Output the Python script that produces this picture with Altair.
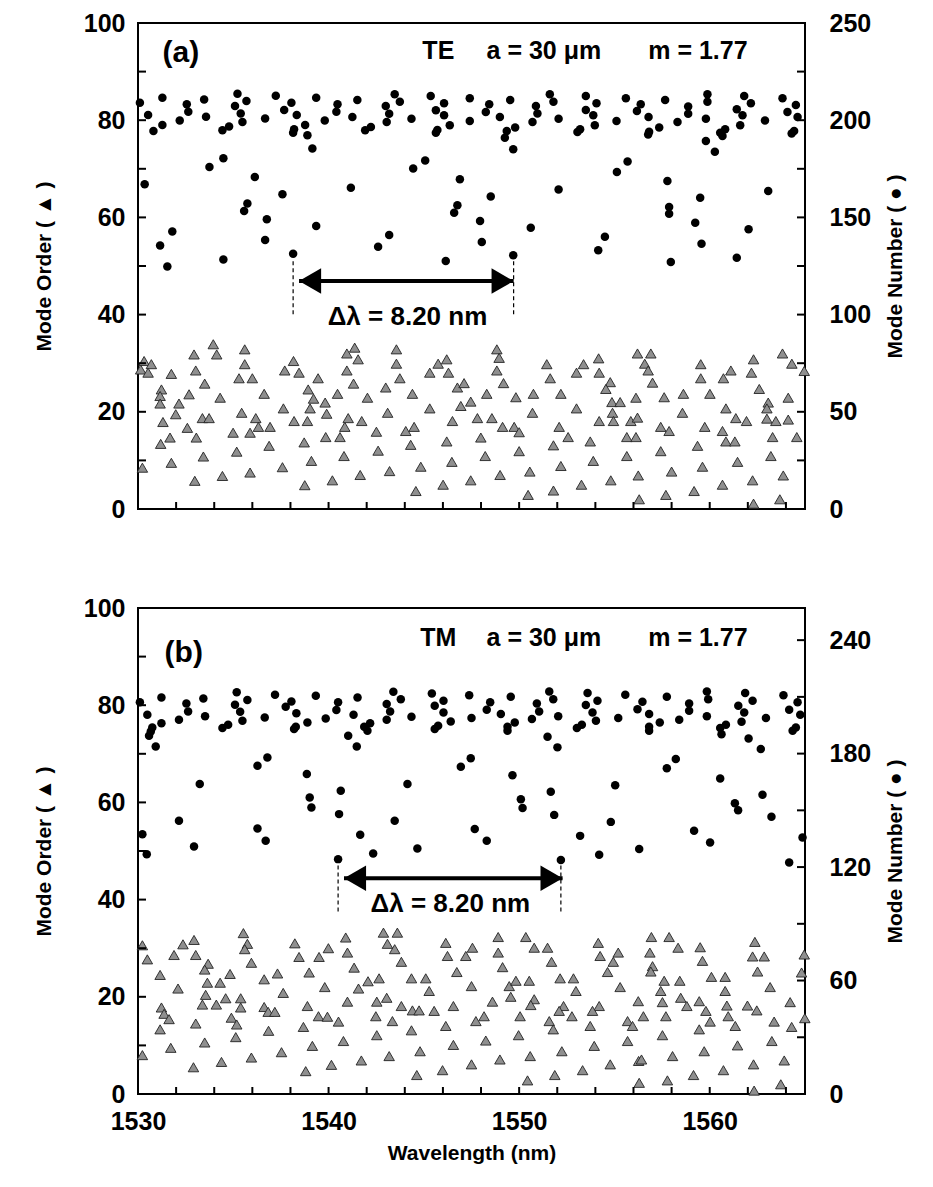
import altair as alt
import pandas as pd

# ---------------- data (wavelength nm, value) ----------------
# Panel (a) TE : circles = mode number (right axis), triangles = mode order (left axis)
te_dots = [
    (1530.10, 209.0), (1530.53, 202.7), (1531.28, 211.6), (1530.81, 194.4), (1531.28, 197.5),
    (1532.19, 199.9), (1532.56, 208.2), (1532.64, 204.4), (1533.47, 210.7), (1533.57, 201.8),
    (1534.43, 194.8), (1534.78, 196.7), (1535.22, 213.6), (1535.09, 207.3), (1535.69, 209.9),
    (1535.39, 203.5), (1535.48, 199.1), (1536.67, 200.9), (1537.23, 212.6), (1537.67, 205.2),
    (1538.05, 209.0), (1538.33, 202.7), (1538.19, 195.3), (1538.14, 193.6), (1538.77, 197.5),
    (1538.89, 192.2), (1539.15, 185.5), (1539.35, 211.6), (1539.80, 199.9), (1540.47, 208.2),
    (1540.41, 204.4), (1541.25, 201.7), (1541.51, 210.4), (1541.92, 194.8), (1542.22, 196.5),
    (1530.35, 167.0), (1533.75, 175.9), (1534.48, 180.4), (1536.13, 170.8), (1535.74, 157.2),
    (1535.57, 153.3), (1537.58, 161.9), (1536.76, 149.0), (1536.67, 138.4), (1531.80, 142.7),
    (1531.16, 135.6), (1531.54, 124.7), (1534.48, 128.4), (1538.14, 131.3), (1539.35, 145.6),
    (1541.17, 165.3), (1542.60, 134.9),
    (1543.00, 207.3), (1543.18, 203.3), (1543.05, 199.1), (1543.47, 213.3), (1543.74, 209.5),
    (1544.35, 200.8), (1545.36, 212.4), (1546.06, 208.7), (1545.63, 205.1), (1546.06, 202.5),
    (1546.36, 197.4), (1545.71, 194.9), (1545.63, 193.6), (1547.41, 211.3), (1547.41, 199.6),
    (1548.43, 208.2), (1548.25, 204.2), (1548.99, 201.6), (1549.53, 210.4), (1549.79, 196.2),
    (1549.35, 194.4), (1549.25, 191.0), (1549.69, 185.0), (1550.88, 207.3), (1550.96, 203.5),
    (1550.70, 199.1), (1551.61, 213.3), (1551.80, 209.5), (1552.07, 200.8), (1553.20, 195.3),
    (1553.06, 193.9), (1553.50, 212.4), (1554.06, 208.7), (1553.50, 205.2), (1553.89, 202.5),
    (1553.97, 197.4), (1555.11, 199.6), (1555.60, 211.3), (1556.18, 204.7),
    (1544.44, 175.1), (1545.07, 179.3), (1546.89, 169.6), (1546.76, 156.2), (1546.59, 152.4),
    (1548.51, 160.7), (1547.95, 148.2), (1548.04, 137.3), (1549.69, 130.5), (1546.15, 127.6),
    (1543.18, 140.9), (1550.61, 144.7), (1552.07, 164.4), (1554.50, 140.1), (1554.15, 133.1),
    (1555.13, 173.4), (1555.69, 178.7),
    (1556.38, 208.2), (1556.79, 201.6), (1556.82, 194.1), (1556.77, 192.7), (1557.35, 196.2),
    (1557.66, 210.4), (1558.31, 199.1), (1558.87, 207.0), (1558.87, 203.3), (1559.88, 213.3),
    (1559.88, 209.5), (1559.80, 200.8), (1559.80, 189.3), (1560.27, 183.8), (1560.55, 193.6),
    (1560.81, 195.3), (1560.67, 191.9), (1561.42, 205.6), (1561.72, 202.5), (1561.60, 197.4),
    (1561.81, 212.4), (1562.16, 208.7), (1562.90, 199.9), (1563.82, 211.3), (1564.08, 204.2),
    (1564.52, 207.8), (1564.61, 201.6), (1564.43, 194.4), (1564.30, 193.1),
    (1557.78, 168.7), (1557.87, 155.3), (1557.87, 151.9), (1559.50, 160.1), (1559.24, 147.3),
    (1559.57, 136.5), (1557.96, 127.1), (1561.42, 129.3), (1562.04, 143.9), (1563.07, 163.6),
]

te_tris = [
    (1530.32, 30.45), (1530.14, 28.7), (1530.70, 29.8), (1530.53, 28.05), (1531.75, 27.8),
    (1532.94, 31.8), (1533.95, 33.9), (1534.13, 31.8), (1535.60, 32.85), (1535.60, 29.8),
    (1533.03, 28.5), (1535.30, 26.9), (1536.00, 26.9), (1533.50, 25.8), (1531.23, 24.6),
    (1531.16, 23.25), (1531.16, 21.7), (1532.15, 21.7), (1532.68, 23.6), (1534.31, 22.9),
    (1536.62, 23.7), (1531.98, 19.5), (1531.31, 17.9), (1533.38, 18.7), (1533.73, 18.7),
    (1535.44, 19.8), (1536.18, 18.7), (1536.32, 16.9), (1536.93, 16.9), (1535.88, 15.7),
    (1534.99, 15.7), (1532.59, 16.7), (1533.06, 14.7), (1531.68, 14.7), (1531.19, 13.4),
    (1531.75, 9.5), (1533.43, 10.8), (1530.23, 8.5), (1532.98, 5.8), (1534.43, 6.8),
    (1535.88, 7.5), (1535.18, 11.8), (1536.88, 13.0), (1537.58, 8.6), (1537.63, 20.7),
    (1537.70, 28.5), (1538.16, 30.45), (1538.45, 28.05), (1538.19, 18.1), (1538.89, 18.1),
    (1538.93, 24.6), (1539.21, 22.7), (1539.03, 20.7), (1539.45, 26.9), (1539.82, 21.9),
    (1539.90, 19.6), (1540.47, 23.7), (1538.72, 13.7), (1539.10, 9.9), (1539.85, 14.8),
    (1540.60, 14.8), (1540.85, 16.9), (1541.03, 18.7), (1540.81, 10.9), (1538.75, 4.9),
    (1540.20, 5.9), (1541.66, 7.0), (1540.96, 32.0), (1541.37, 33.2), (1541.55, 30.8),
    (1540.96, 28.5), (1541.31, 25.8), (1542.04, 22.9), (1541.74, 18.1), (1542.51, 15.9),
    (1542.60, 12.0), (1543.00, 25.0), (1543.10, 19.8), (1543.20, 7.8),
    (1543.56, 32.85), (1543.56, 29.9), (1543.74, 26.9), (1544.40, 23.7), (1544.05, 16.05),
    (1544.49, 16.9), (1544.31, 13.2), (1544.84, 8.7), (1544.58, 3.7), (1545.31, 20.7),
    (1545.31, 28.05), (1545.75, 29.9), (1546.20, 30.8), (1546.29, 28.05), (1546.76, 25.0),
    (1547.11, 25.9), (1546.94, 21.2), (1547.46, 22.1), (1546.50, 18.1), (1546.20, 13.9),
    (1546.47, 9.7), (1546.01, 5.0), (1547.46, 5.9), (1547.81, 18.7), (1547.99, 14.7),
    (1548.22, 10.9), (1548.30, 23.7), (1548.57, 18.7), (1548.83, 32.85), (1548.95, 31.1),
    (1548.83, 28.5), (1549.18, 25.9), (1549.13, 16.9), (1549.74, 16.9), (1550.00, 15.8),
    (1549.83, 23.0), (1550.00, 11.9), (1549.00, 7.0), (1550.56, 7.7), (1550.47, 2.9),
    (1550.75, 23.7), (1550.70, 19.8), (1551.45, 29.8), (1551.63, 26.9), (1552.19, 23.7),
    (1552.10, 16.9), (1552.57, 14.8), (1551.80, 13.1), (1552.19, 8.85), (1551.80, 3.8),
    (1553.01, 20.7), (1553.01, 28.05), (1553.38, 29.8), (1553.73, 13.9), (1553.89, 9.9),
    (1553.27, 5.0), (1554.17, 31.0), (1554.20, 28.05), (1554.78, 26.1), (1554.55, 24.7),
    (1554.87, 22.0), (1555.30, 22.0), (1554.90, 19.8), (1554.20, 18.1), (1554.95, 18.1),
    (1555.86, 18.1), (1556.13, 22.9), (1556.21, 32.0), (1555.65, 14.8), (1556.13, 14.8),
    (1555.65, 10.9), (1554.81, 5.9), (1556.25, 6.9), (1556.30, 2.0), (1556.21, 18.8),
    (1556.91, 32.0), (1556.59, 29.9), (1556.77, 28.5), (1557.00, 26.0), (1557.61, 23.0),
    (1558.62, 23.7), (1560.01, 23.7), (1559.53, 29.8), (1559.53, 26.9), (1560.72, 26.9),
    (1561.11, 28.5), (1562.30, 30.8), (1562.19, 28.05), (1562.60, 24.7), (1563.82, 32.0),
    (1564.31, 29.9), (1564.96, 28.4), (1564.12, 22.9), (1563.07, 21.9), (1563.00, 20.7),
    (1563.00, 18.6), (1563.47, 18.1), (1564.12, 18.4), (1563.30, 14.8), (1564.57, 14.8),
    (1563.21, 10.9), (1563.86, 6.9), (1563.68, 2.0), (1562.30, 1.1), (1562.25, 5.9),
    (1560.67, 5.0), (1561.46, 9.7), (1560.85, 20.7), (1561.37, 18.7), (1561.93, 18.1),
    (1560.67, 16.05), (1560.85, 13.9), (1561.32, 13.9), (1559.74, 16.9), (1559.36, 13.0),
    (1559.62, 8.7), (1559.18, 3.7), (1558.57, 19.8), (1557.43, 16.9), (1557.87, 16.05),
    (1557.43, 11.9), (1558.00, 7.7), (1557.70, 2.9),
]

# Panel (b) TM
tm_dots = [
    (1530.10, 207.1), (1530.49, 200.5), (1531.23, 209.7), (1531.23, 196.0), (1530.75, 193.8),
    (1530.67, 191.7), (1530.58, 189.4), (1530.93, 183.8), (1532.15, 197.9), (1532.54, 206.5),
    (1532.63, 202.3), (1533.43, 209.2), (1533.52, 199.7), (1534.43, 193.5), (1534.73, 195.3),
    (1535.18, 212.4), (1535.09, 205.8), (1535.36, 202.1), (1535.48, 197.4), (1535.74, 208.3),
    (1536.65, 199.1), (1537.19, 211.1), (1537.75, 204.8), (1538.05, 207.6), (1538.31, 201.3),
    (1538.28, 194.2), (1538.19, 193.0), (1538.89, 196.5), (1539.33, 210.6), (1539.85, 198.6),
    (1540.50, 207.1), (1540.41, 203.0), (1541.31, 200.5), (1541.52, 209.7), (1541.87, 194.2),
    (1542.18, 196.0), (1542.04, 192.1), (1541.03, 189.4), (1541.48, 183.8),
    (1536.27, 173.6), (1536.79, 178.0), (1533.24, 163.9), (1538.86, 169.2), (1539.01, 156.8),
    (1539.10, 151.5), (1540.64, 160.3), (1540.55, 148.0), (1532.15, 144.5), (1530.23, 137.4),
    (1530.46, 126.8), (1532.94, 130.9), (1536.27, 140.4), (1536.70, 133.9), (1541.66, 137.1),
    (1540.50, 124.2), (1542.34, 127.2),
    (1543.05, 206.2), (1543.23, 202.3), (1543.05, 197.9), (1543.40, 212.7), (1543.79, 208.8),
    (1544.35, 199.5), (1545.42, 211.8), (1545.57, 205.3), (1546.03, 207.9), (1546.03, 201.8),
    (1546.41, 197.0), (1545.75, 194.7), (1545.57, 193.0), (1547.38, 210.9), (1547.50, 198.8),
    (1548.48, 207.1), (1548.30, 203.2), (1549.04, 200.9), (1549.56, 210.1), (1549.77, 196.5),
    (1549.39, 194.2), (1549.39, 192.1), (1550.93, 206.5), (1551.05, 202.3), (1550.67, 198.3),
    (1551.58, 212.9), (1551.79, 208.8), (1552.05, 199.7), (1551.49, 188.9), (1552.01, 183.3),
    (1553.03, 193.5), (1553.29, 195.3), (1553.59, 212.0), (1554.11, 208.0), (1553.50, 205.7),
    (1553.85, 201.8), (1554.03, 197.4), (1555.20, 198.8), (1555.57, 211.1), (1556.21, 203.5),
    (1546.94, 173.0), (1547.46, 177.6), (1544.14, 163.9), (1549.65, 168.6), (1550.09, 155.9),
    (1550.18, 151.2), (1551.66, 159.8), (1551.84, 147.6), (1543.47, 144.5), (1547.67, 140.1),
    (1548.30, 133.9), (1544.66, 129.8), (1553.20, 136.5), (1552.19, 123.8), (1554.20, 126.5),
    (1555.04, 163.3), (1554.81, 143.9), (1556.30, 129.5),
    (1556.47, 207.4), (1556.82, 200.9), (1556.82, 194.2), (1556.82, 192.1), (1557.38, 196.5),
    (1557.75, 210.1), (1558.40, 197.9), (1558.92, 206.5), (1558.92, 202.7), (1559.85, 212.9),
    (1559.92, 208.8), (1559.85, 199.7), (1560.55, 193.5), (1560.85, 195.3), (1560.62, 190.3),
    (1561.50, 205.3), (1561.81, 201.8), (1561.67, 196.8), (1561.86, 212.0), (1562.25, 208.0),
    (1562.04, 188.0), (1562.95, 198.8), (1562.68, 182.4), (1563.87, 210.9), (1564.17, 203.2),
    (1564.61, 207.1), (1564.75, 200.5), (1564.52, 193.8), (1564.35, 192.1),
    (1557.75, 172.3), (1558.22, 177.1), (1560.55, 166.9), (1562.77, 158.2), (1561.32, 153.8),
    (1561.49, 150.1), (1563.24, 146.6), (1559.18, 139.2), (1560.02, 133.0), (1564.87, 135.6),
    (1564.17, 122.4),
]

tm_tris = [
    (1530.23, 30.6), (1530.49, 27.7), (1531.16, 24.5), (1532.10, 21.7), (1531.89, 28.6),
    (1532.36, 30.8), (1532.94, 31.7), (1533.03, 28.6), (1533.68, 26.8), (1533.50, 25.6),
    (1533.64, 22.9), (1534.31, 22.9), (1533.55, 20.4), (1533.38, 18.4), (1534.11, 18.4),
    (1534.60, 19.7), (1534.83, 24.7), (1535.53, 33.1), (1535.74, 30.9), (1535.60, 29.8),
    (1535.95, 27.0), (1535.39, 19.7), (1535.39, 17.8), (1531.23, 17.8), (1531.37, 16.5),
    (1531.63, 15.4), (1531.16, 13.3), (1533.03, 14.5), (1534.90, 15.7), (1535.18, 14.3),
    (1535.13, 11.7), (1533.50, 10.6), (1531.72, 9.5), (1530.23, 8.0), (1532.91, 5.5),
    (1534.38, 6.6), (1535.95, 7.5), (1536.62, 23.6), (1537.32, 24.8), (1537.62, 20.8),
    (1536.62, 17.9), (1536.83, 16.9), (1537.18, 16.9), (1536.85, 13.0), (1537.53, 8.6),
    (1538.23, 31.0), (1538.45, 28.2), (1538.98, 25.0), (1538.89, 18.1), (1538.68, 13.8),
    (1539.15, 9.9), (1538.80, 4.7), (1539.50, 28.2), (1539.99, 30.0), (1539.80, 22.0),
    (1539.47, 16.0), (1539.94, 15.9), (1540.52, 14.9), (1540.15, 6.0), (1540.90, 32.2),
    (1540.99, 29.1), (1541.34, 26.0), (1541.57, 21.7), (1540.99, 19.0), (1540.78, 10.9),
    (1541.72, 6.9), (1542.07, 23.2), (1542.65, 23.8), (1542.53, 19.0), (1542.48, 16.0),
    (1542.53, 12.1), (1542.88, 33.2), (1543.09, 30.9), (1543.05, 19.8), (1543.18, 7.8),
    (1543.61, 33.2), (1543.47, 29.8), (1543.82, 27.2), (1543.82, 18.1), (1544.40, 17.2),
    (1544.75, 17.2), (1543.35, 15.0), (1544.35, 13.1), (1544.80, 8.8), (1544.63, 3.9),
    (1544.35, 23.8), (1545.10, 23.8), (1545.28, 21.2), (1545.54, 17.1), (1546.15, 31.1),
    (1546.24, 28.4), (1546.73, 25.1), (1547.20, 28.4), (1547.55, 30.1), (1547.50, 22.2),
    (1546.55, 18.1), (1546.15, 14.0), (1546.55, 10.1), (1545.98, 4.9), (1547.50, 6.1),
    (1547.73, 15.0), (1548.16, 16.0), (1548.25, 11.0), (1548.60, 19.0), (1548.90, 32.3),
    (1548.90, 29.1), (1549.13, 26.1), (1549.48, 22.2), (1549.83, 23.3), (1549.56, 20.0),
    (1550.53, 23.3), (1550.05, 16.0), (1549.97, 12.1), (1548.99, 7.1), (1550.58, 7.8),
    (1550.44, 2.8), (1550.35, 32.3), (1550.79, 30.1), (1551.49, 30.1), (1551.70, 27.2),
    (1550.79, 19.5), (1550.61, 18.3), (1551.58, 15.0), (1551.79, 13.3), (1552.15, 23.8),
    (1552.85, 23.8), (1552.98, 21.2), (1552.33, 18.1), (1552.10, 17.1), (1552.77, 16.0),
    (1552.24, 8.8), (1551.87, 3.9), (1553.33, 4.9), (1553.73, 14.0), (1553.94, 9.9),
    (1554.15, 31.1), (1554.25, 28.4), (1555.20, 29.1), (1554.94, 27.2), (1554.64, 25.1),
    (1555.30, 22.0), (1554.20, 18.1), (1553.85, 17.1), (1555.69, 15.0), (1555.95, 14.0),
    (1555.69, 10.9), (1554.78, 6.1), (1556.25, 19.1), (1556.27, 6.8), (1556.30, 2.3),
    (1556.94, 32.3), (1557.87, 32.3), (1558.34, 30.1), (1556.86, 29.1), (1557.00, 26.3),
    (1556.91, 25.2), (1557.61, 23.3), (1558.43, 23.3), (1557.43, 21.2), (1557.52, 18.9),
    (1556.52, 16.0), (1557.70, 16.0), (1558.48, 19.8), (1558.80, 18.1), (1559.45, 19.1),
    (1559.80, 17.1), (1560.02, 14.9), (1559.45, 13.3), (1557.52, 12.1), (1556.42, 7.1),
    (1558.05, 7.8), (1557.78, 2.8), (1559.15, 3.9), (1559.71, 8.8), (1559.50, 30.2),
    (1559.62, 27.4), (1560.09, 24.1), (1560.81, 24.1), (1560.81, 21.2), (1560.90, 18.2),
    (1560.97, 16.0), (1561.34, 14.0), (1561.46, 10.0), (1560.72, 4.9), (1561.98, 18.2),
    (1562.47, 17.2), (1562.37, 31.3), (1562.25, 28.3), (1562.86, 28.3), (1562.51, 25.2),
    (1563.17, 22.0), (1563.38, 14.9), (1563.26, 10.9), (1563.91, 6.9), (1562.30, 6.1),
    (1562.33, 0.7), (1563.73, 2.0), (1564.22, 18.9), (1564.30, 13.8), (1564.96, 28.7),
    (1564.82, 25.0), (1564.99, 15.6),
]

# axis ticks / labels
x_domain = [1530, 1565]
x_labels = [1530, 1540, 1550, 1560]
x_ticks = list(range(1530, 1565, 2))
left_labels = [0, 20, 40, 60, 80, 100]
left_ticks = list(range(0, 101, 10))
te_right_max = 250
te_right_labels = [0, 50, 100, 150, 200, 250]
te_right_ticks = list(range(0, 251, 25))
tm_right_max = 257
tm_right_labels = [0, 60, 120, 180, 240]
tm_right_ticks = list(range(0, 241, 30))

# annotations: (wavelength, mode order, text)
te_tag = [(1532.25, 93.8, "(a)")]
te_head = [(1545.76, 94.2, "TE"), (1551.30, 94.2, "a = 30 \u03bcm"), (1559.38, 94.2, "m = 1.77")]
te_delta = [(1544.14, 39.6, "\u0394\u03bb = 8.20 nm")]
te_arrow = (1538.45, 1549.71, 46.9)
te_dash = [(1538.14, 51.0, 39.5), (1549.71, 51.0, 39.5)]

tm_tag = [(1532.4, 90.7, "(b)")]
tm_head = [(1545.76, 93.8, "TM"), (1551.30, 93.8, "a = 30 \u03bcm"), (1559.38, 93.8, "m = 1.77")]
tm_delta = [(1546.39, 39.1, "\u0394\u03bb = 8.20 nm")]
tm_arrow = (1540.81, 1552.28, 44.4)
tm_dash = [(1540.50, 47.0, 37.0), (1552.19, 47.0, 37.0)]

# ---------------- style ----------------
W, H = 667, 486
FONT = "Liberation Sans"
TRI_FILL = "#8f8f8f"
TRI_STROKE = "#222222"
HEAD_SIZE = 650
HEAD_NM = (HEAD_SIZE ** 0.5) / 2 * 0.866 / (W / 35.0)
LABEL_SIZE = 25
TITLE_SIZE = 21


def build_panel(dots, tris, rmax, rlabels, rticks, tag, head, delta, arrow, dash, show_x):
    xs = alt.Scale(domain=x_domain, nice=False, zero=False)
    yl = alt.Scale(domain=[0, 100], nice=False)
    yr = alt.Scale(domain=[0, rmax], nice=False)
    if show_x:
        xaxis = alt.Axis(values=x_labels, format="d", title="Wavelength (nm)",
                         labelPadding=15, titlePadding=8, labelFlush=False)
    else:
        xaxis = None
    yl_axis = alt.Axis(values=left_labels, title="Mode Order ( \u25b2 )", labelPadding=13,
                       minExtent=55, maxExtent=55, titlePadding=29, labelFlush=False)
    yr_axis = alt.Axis(orient="right", values=rlabels, title="Mode Number ( \u25cf )",
                       labelPadding=24, titleAngle=-90, titleBaseline="top", titlePadding=14,
                       labelFlush=False)

    def X(field):
        return alt.X(field, scale=xs, axis=xaxis)

    def YL(field):
        return alt.Y(field, scale=yl, axis=yl_axis)

    tri_df = pd.DataFrame(tris, columns=["wl", "order"])
    dot_df = pd.DataFrame(dots, columns=["wl", "num"])

    tri = alt.Chart(tri_df).mark_point(
        shape="triangle-up", filled=True, size=110, fill=TRI_FILL,
        stroke=TRI_STROKE, strokeWidth=0.9, opacity=1
    ).encode(x=X("wl:Q"), y=YL("order:Q"))
    lt = alt.Chart(pd.DataFrame({"order": left_ticks})).mark_rule(
        color="black", strokeWidth=2).encode(
        y=YL("order:Q"), x=alt.value(0), x2=alt.value(8))
    xt = alt.Chart(pd.DataFrame({"wl": x_ticks})).mark_rule(
        color="black", strokeWidth=2).encode(
        x=X("wl:Q"), y=alt.value(H), y2=alt.value(H - 7))

    def txt(rows, size):
        df = pd.DataFrame(rows, columns=["wl", "order", "label"])
        return alt.Chart(df).mark_text(
            font=FONT, fontWeight="bold", fontSize=size, color="black",
            align="center", baseline="middle").encode(
            x=X("wl:Q"), y=YL("order:Q"), text="label:N")

    adf = pd.DataFrame([{"wl": arrow[0], "x2": arrow[1], "order": arrow[2]}])
    line = alt.Chart(adf).mark_rule(color="black", strokeWidth=4).encode(
        x=X("wl:Q"), x2="x2:Q", y=YL("order:Q"))
    hdf = pd.DataFrame([
        {"wl": arrow[0] + HEAD_NM, "order": arrow[2], "shape": "triangle-left"},
        {"wl": arrow[1] - HEAD_NM, "order": arrow[2], "shape": "triangle-right"},
    ])
    heads = alt.Chart(hdf).mark_point(filled=True, size=HEAD_SIZE, color="black", opacity=1).encode(
        x=X("wl:Q"), y=YL("order:Q"),
        shape=alt.Shape("shape:N", scale=None, legend=None))
    ddf = pd.DataFrame(dash, columns=["wl", "order", "bot"])
    dashes = alt.Chart(ddf).mark_rule(color="black", strokeWidth=1.2, strokeDash=[4, 3]).encode(
        x=X("wl:Q"), y=YL("order:Q"), y2="bot:Q")

    left = alt.layer(tri, lt, xt, dashes, line, heads,
                     txt(tag, 30), txt(head, 25), txt(delta, 26))

    dot = alt.Chart(dot_df).mark_circle(size=72, color="black", opacity=1).encode(
        x=X("wl:Q"), y=alt.Y("num:Q", scale=yr, axis=yr_axis))
    rt = alt.Chart(pd.DataFrame({"num": rticks})).mark_rule(
        color="black", strokeWidth=2).encode(
        y=alt.Y("num:Q", scale=yr, axis=yr_axis), x=alt.value(W), x2=alt.value(W - 8))
    right = alt.layer(dot, rt)

    return alt.layer(left, right).resolve_scale(y="independent").properties(width=W, height=H)


panel_a = build_panel(te_dots, te_tris, te_right_max, te_right_labels, te_right_ticks,
                      te_tag, te_head, te_delta, te_arrow, te_dash, False)
panel_b = build_panel(tm_dots, tm_tris, tm_right_max, tm_right_labels, tm_right_ticks,
                      tm_tag, tm_head, tm_delta, tm_arrow, tm_dash, True)

chart = alt.vconcat(panel_a, panel_b, spacing=99, bounds="flush").properties(
    padding={"left": 24, "top": 2, "right": 5, "bottom": 5}
).configure_view(
    stroke="black", strokeWidth=2
).configure_axis(
    labelFont=FONT, labelFontSize=LABEL_SIZE, labelFontWeight="bold", labelColor="black",
    titleFont=FONT, titleFontSize=TITLE_SIZE, titleFontWeight="bold", titleColor="black",
    grid=False, domain=False, ticks=False, tickSize=0
)

chart.save("out.html", embed_options={"renderer": "svg", "actions": False})
